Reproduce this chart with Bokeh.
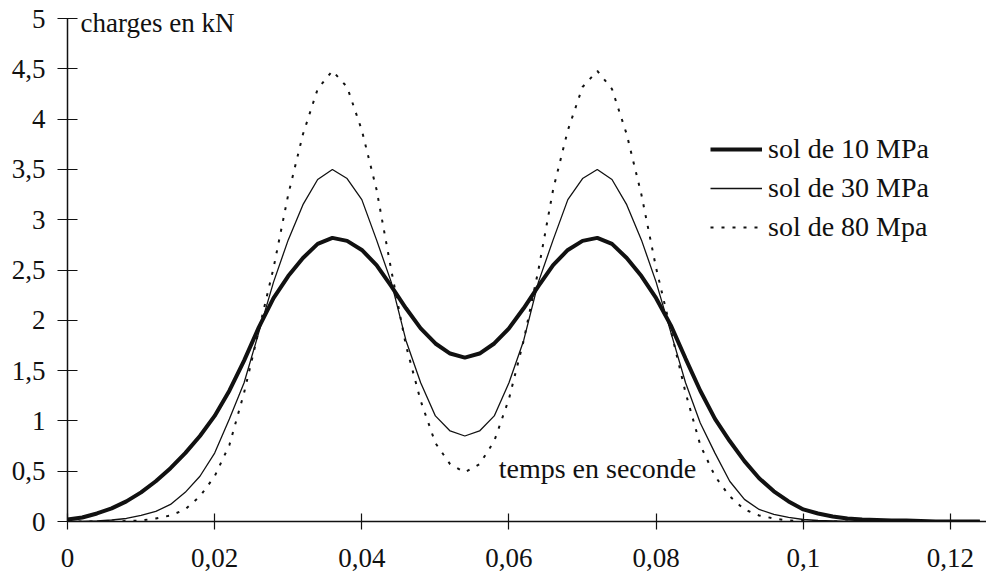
from bokeh.plotting import figure
from bokeh.models import Range1d, FixedTicker, Legend, LegendItem, Label
from bokeh.embed import file_html
from bokeh.resources import INLINE

# ---- data ----
temps = [round(0.002 * i, 3) for i in range(63)]  # 0 .. 0.124 s, step 0.002

sol_10 = [0.02, 0.04, 0.08, 0.13, 0.20, 0.29, 0.40, 0.53, 0.68, 0.85, 1.05, 1.30, 1.60, 1.93,
          2.22, 2.44, 2.62, 2.76, 2.82, 2.79, 2.70, 2.55, 2.34, 2.12, 1.92, 1.77, 1.67, 1.63,
          1.67, 1.77, 1.92, 2.12, 2.34, 2.55, 2.70, 2.79, 2.82, 2.76, 2.62, 2.44, 2.22, 1.95,
          1.62, 1.30, 1.02, 0.80, 0.60, 0.43, 0.30, 0.20, 0.12, 0.08, 0.05, 0.03, 0.02, 0.015,
          0.01, 0.01, 0.005, 0.0, 0.0, 0.0, 0.0]

sol_30 = [0.0, 0.0, 0.005, 0.015, 0.03, 0.06, 0.10, 0.17, 0.29, 0.45, 0.68, 1.02, 1.38, 1.88,
          2.38, 2.80, 3.15, 3.40, 3.50, 3.41, 3.20, 2.80, 2.38, 1.80, 1.38, 1.05, 0.90, 0.85,
          0.90, 1.05, 1.38, 1.80, 2.38, 2.80, 3.20, 3.41, 3.50, 3.40, 3.15, 2.80, 2.38, 1.88,
          1.38, 0.98, 0.68, 0.40, 0.22, 0.12, 0.07, 0.04, 0.02, 0.01, 0.005, 0.0, 0.0, 0.0,
          0.0, 0.0, 0.0, 0.0, 0.0, 0.0, 0.0]

sol_80 = [0.0, 0.0, 0.0, 0.0, 0.005, 0.01, 0.03, 0.06, 0.12, 0.25, 0.45, 0.76, 1.28, 1.90,
          2.52, 3.25, 3.85, 4.30, 4.48, 4.32, 3.89, 3.30, 2.50, 1.75, 1.20, 0.78, 0.57, 0.49,
          0.57, 0.80, 1.22, 1.80, 2.50, 3.30, 3.89, 4.32, 4.48, 4.30, 3.85, 3.25, 2.52, 1.90,
          1.28, 0.76, 0.45, 0.25, 0.12, 0.06, 0.03, 0.01, 0.005, 0.0, 0.0, 0.0, 0.0, 0.0,
          0.0, 0.0, 0.0, 0.0, 0.0, 0.0, 0.0]

x_ticks = [0, 0.02, 0.04, 0.06, 0.08, 0.10, 0.12]
x_tick_labels = ["0", "0,02", "0,04", "0,06", "0,08", "0,1", "0,12"]
y_ticks = [0, 0.5, 1, 1.5, 2, 2.5, 3, 3.5, 4, 4.5, 5]
y_tick_labels = ["0", "0,5", "1", "1,5", "2", "2,5", "3", "3,5", "4", "4,5", "5"]
series_names = ["sol de 10 MPa", "sol de 30 MPa", "sol de 80 Mpa"]

FONT = "Liberation Serif"
INK = "#111111"

p = figure(width=986, height=577, output_backend="svg", toolbar_location=None,
           x_range=Range1d(0, 0.1249), y_range=Range1d(0, 5.18),
           min_border_left=67, min_border_right=0, min_border_top=0, min_border_bottom=56)
p.outline_line_color = None
p.xgrid.visible = False
p.ygrid.visible = False
p.background_fill_color = "white"

for ax, ticks, labels in ((p.xaxis[0], x_ticks, x_tick_labels), (p.yaxis[0], y_ticks, y_tick_labels)):
    ax.ticker = FixedTicker(ticks=ticks)
    ax.major_label_overrides = {t: l for t, l in zip(ticks, labels)}
    ax.minor_tick_line_color = None
    ax.axis_line_color = INK
    ax.axis_line_width = 1.5
    ax.major_tick_line_color = INK
    ax.major_tick_line_width = 1.2
    ax.major_label_text_font = FONT
    ax.major_label_text_font_size = "27px"
    ax.major_label_text_color = INK

p.yaxis.bounds = (0, 5)
p.xaxis.major_tick_in = 8
p.xaxis.major_tick_out = 8
p.xaxis.major_label_standoff = 19
p.yaxis.major_tick_in = 10
p.yaxis.major_tick_out = 10
p.yaxis.major_label_standoff = 12

r10 = p.line(temps, sol_10, line_color=INK, line_width=4)
r30 = p.line(temps, sol_30, line_color=INK, line_width=1.3)
r80 = p.line(temps, sol_80, line_color=INK, line_width=2, line_dash="3 8")

legend = Legend(items=[LegendItem(label=series_names[0], renderers=[r10]),
                       LegendItem(label=series_names[1], renderers=[r30]),
                       LegendItem(label=series_names[2], renderers=[r80])],
                location=(643, 278), glyph_width=52, glyph_height=30, label_height=30,
                spacing=7, padding=0, margin=0, label_standoff=6,
                label_text_font=FONT, label_text_font_size="28px", label_text_color=INK,
                border_line_color=None, background_fill_alpha=0)
p.add_layout(legend, "center")

p.add_layout(Label(x=0, y=5, x_offset=13, y_offset=-4, text="charges en kN",
                   text_font=FONT, text_font_size="27px", text_color=INK, text_baseline="middle"))
p.add_layout(Label(x=0.0586, y=0.53, text="temps en seconde",
                   text_font=FONT, text_font_size="28px", text_color=INK, text_baseline="middle"))

open("out.html", "w").write(file_html(p, INLINE))
